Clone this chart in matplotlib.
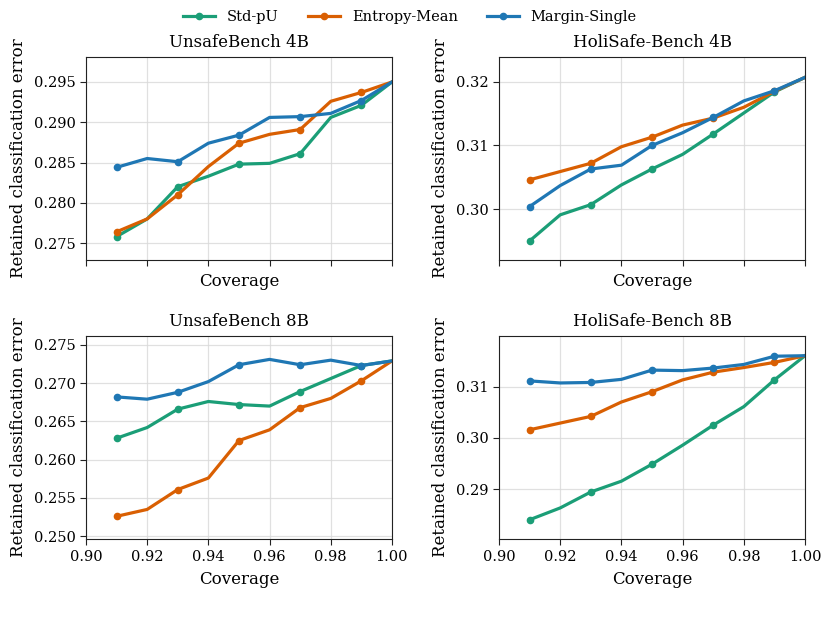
import matplotlib
matplotlib.use("Agg")
import matplotlib.pyplot as plt
from matplotlib.ticker import MultipleLocator

plt.rcParams['font.family'] = ['DejaVu Serif']

coverage = [0.91, 0.92, 0.93, 0.94, 0.95, 0.96, 0.97, 0.98, 0.99, 1.00]
methods = ['Std-pU', 'Entropy-Mean', 'Margin-Single']
colors = ['#1b9e77', '#d95f02', '#1f77b4']

# UnsafeBench 4B
ub4_std = [0.2758, 0.2780, 0.2820, 0.2833, 0.2848, 0.2849, 0.2861, 0.2906, 0.2921, 0.2950]
ub4_ent = [0.2764, 0.2780, 0.2810, 0.2845, 0.2874, 0.2885, 0.2891, 0.2926, 0.2937, 0.2950]
ub4_mar = [0.2844, 0.2855, 0.2851, 0.2874, 0.2884, 0.2906, 0.2907, 0.2911, 0.2927, 0.2950]

# HoliSafe-Bench 4B
hs4_std = [0.2950, 0.2991, 0.3007, 0.3038, 0.3063, 0.3086, 0.3118, 0.3151, 0.3184, 0.3207]
hs4_ent = [0.3046, 0.3059, 0.3072, 0.3098, 0.3113, 0.3132, 0.3143, 0.3160, 0.3185, 0.3207]
hs4_mar = [0.3004, 0.3037, 0.3063, 0.3069, 0.3100, 0.3120, 0.3144, 0.3170, 0.3186, 0.3207]

# UnsafeBench 8B
ub8_std = [0.2628, 0.2642, 0.2666, 0.2676, 0.2672, 0.2670, 0.2689, 0.2706, 0.2723, 0.2729]
ub8_ent = [0.2526, 0.2535, 0.2561, 0.2576, 0.2625, 0.2639, 0.2668, 0.2680, 0.2703, 0.2729]
ub8_mar = [0.2682, 0.2679, 0.2688, 0.2702, 0.2724, 0.2731, 0.2724, 0.2730, 0.2723, 0.2729]

# HoliSafe-Bench 8B
hs8_std = [0.2841, 0.2864, 0.2895, 0.2916, 0.2949, 0.2986, 0.3025, 0.3061, 0.3113, 0.3160]
hs8_ent = [0.3016, 0.3029, 0.3042, 0.3070, 0.3090, 0.3113, 0.3128, 0.3137, 0.3147, 0.3160]
hs8_mar = [0.3111, 0.3107, 0.3108, 0.3114, 0.3132, 0.3131, 0.3136, 0.3143, 0.3159, 0.3160]

panels = [
    ('UnsafeBench 4B', [ub4_std, ub4_ent, ub4_mar], (0.2729, 0.2981), 0.005),
    ('HoliSafe-Bench 4B', [hs4_std, hs4_ent, hs4_mar], (0.2920, 0.3239), 0.01),
    ('UnsafeBench 8B', [ub8_std, ub8_ent, ub8_mar], (0.2496, 0.2762), 0.005),
    ('HoliSafe-Bench 8B', [hs8_std, hs8_ent, hs8_mar], (0.2803, 0.3199), 0.01),
]

fig = plt.figure(figsize=(8.37, 6.32), dpi=100)
rects = [
    [0.1027, 0.5886, 0.3656, 0.3212],
    [0.5962, 0.5886, 0.3656, 0.3212],
    [0.1027, 0.1467, 0.3656, 0.3222],
    [0.5962, 0.1467, 0.3656, 0.3222],
]

for i, (title, series, ylim, step) in enumerate(panels):
    ax = fig.add_axes(rects[i])
    for vals, name, c in zip(series, methods, colors):
        ax.plot(coverage, vals, color=c, lw=2.3, marker='o', ms=4.5,
                markevery=2, label=name)
    ax.set_xlim(0.90, 1.00)
    ax.set_ylim(*ylim)
    ax.xaxis.set_major_locator(MultipleLocator(0.02))
    ax.yaxis.set_major_locator(MultipleLocator(step))
    ax.grid(True, color='#d9d9d9', lw=0.9, alpha=0.8)
    ax.set_axisbelow(True)
    ax.set_title(title, fontsize=12, pad=7)
    ax.set_xlabel('Coverage', fontsize=12, labelpad=5)
    ax.set_ylabel('Retained classification error', fontsize=12, labelpad=5)
    ax.tick_params(labelsize=10.5, color='#222222', length=4)
    for s in ax.spines.values():
        s.set_color('#222222')
    if i < 2:
        ax.tick_params(labelbottom=False)
    if i == 0:
        handles, labels = ax.get_legend_handles_labels()

fig.legend(handles, labels, loc='upper center', bbox_to_anchor=(0.49, 1.005),
           ncol=3, frameon=False, fontsize=10.5, handlelength=2.2,
           columnspacing=2.0)

fig.savefig('out.png', dpi=100)
